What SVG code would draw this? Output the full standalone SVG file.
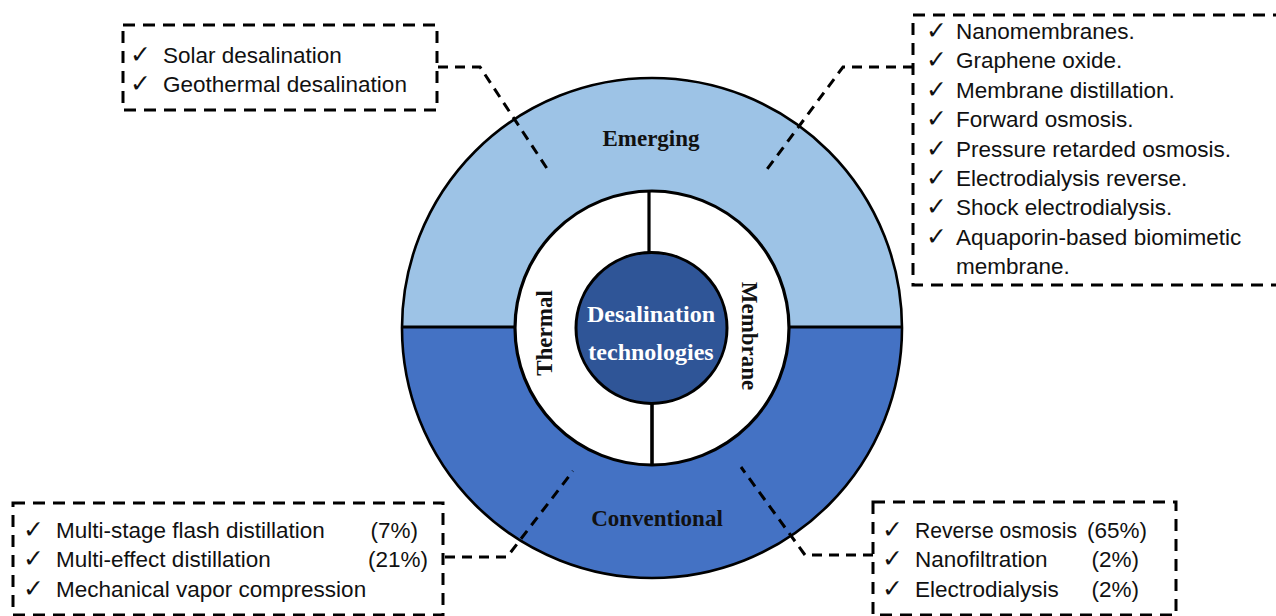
<svg xmlns="http://www.w3.org/2000/svg" width="1276" height="616" viewBox="0 0 1276 616">
<style>
.box{fill:none;stroke:#000;stroke-width:3;stroke-dasharray:12 8}
.con{fill:none;stroke:#000;stroke-width:3;stroke-dasharray:10 7}
.t{font-family:"Liberation Sans","DejaVu Sans",sans-serif;font-size:22.5px;fill:#111}
.ck{font-family:"DejaVu Sans",sans-serif;font-size:25px;fill:#111}
.lab{font-family:"Liberation Serif","DejaVu Serif",serif;font-weight:bold;font-size:23px;fill:#111}
.cen{font-family:"Liberation Serif","DejaVu Serif",serif;font-weight:bold;font-size:24px;fill:#fff}
</style>
<rect width="1276" height="616" fill="#fff"/>
<g id="ring-outer">
<path d="M402,328 A250,250 0 0 1 902,328 Z" fill="#9DC3E6"/>
<path d="M402,328 A250,250 0 0 0 902,328 Z" fill="#4472C4"/>
<circle cx="652" cy="328" r="250" fill="none" stroke="#000" stroke-width="2.6"/>
<line x1="402" y1="327" x2="902" y2="327" stroke="#000" stroke-width="3"/>
</g>
<g id="node-emerging"><text class="lab" x="651" y="146" text-anchor="middle">Emerging</text></g>
<g id="node-conventional"><text class="lab" x="657" y="526" text-anchor="middle">Conventional</text></g>
<g id="ring-inner">
<circle cx="652" cy="328" r="137" fill="#fff" stroke="#000" stroke-width="3.2"/>
<line x1="649" y1="192" x2="649" y2="254" stroke="#000" stroke-width="3.2"/>
<line x1="652" y1="402" x2="652" y2="465" stroke="#000" stroke-width="3.6"/>
</g>
<g id="node-thermal"><text class="lab" transform="translate(552,333) rotate(-90)" text-anchor="middle">Thermal</text></g>
<g id="node-membrane"><text class="lab" transform="translate(742,336) rotate(90)" text-anchor="middle">Membrane</text></g>
<g id="node-center">
<circle cx="651.5" cy="328" r="75.5" fill="#2F5597" stroke="#000" stroke-width="3"/>
<text class="cen" x="651" y="322" text-anchor="middle">Desalination</text>
<text class="cen" x="651" y="360" text-anchor="middle">technologies</text>
</g>
<g id="connectors">
<path class="con" d="M438,67 H480 L548,170"/>
<path class="con" d="M913,67 H843 L765,172"/>
<path class="con" d="M445,557 H507 L573,471"/>
<path class="con" d="M873,555 H805 L741,467"/>
</g>
<g id="box-emerging-thermal">
<rect class="box" x="123" y="25" width="314" height="85"/>
<text class="ck" x="130" y="63">✓</text><text class="t" x="163" y="63">Solar desalination</text>
<text class="ck" x="130" y="92">✓</text><text class="t" x="163" y="92">Geothermal desalination</text>
</g>
<g id="box-emerging-membrane">
<rect class="box" x="913" y="15" width="380" height="270"/>
<text class="ck" x="926" y="39">✓</text><text class="t" x="956" y="39">Nanomembranes.</text>
<text class="ck" x="926" y="68">✓</text><text class="t" x="956" y="68">Graphene oxide.</text>
<text class="ck" x="926" y="98">✓</text><text class="t" x="956" y="98">Membrane distillation.</text>
<text class="ck" x="926" y="127">✓</text><text class="t" x="956" y="127">Forward osmosis.</text>
<text class="ck" x="926" y="157">✓</text><text class="t" x="956" y="157">Pressure retarded osmosis.</text>
<text class="ck" x="926" y="186">✓</text><text class="t" x="956" y="186">Electrodialysis reverse.</text>
<text class="ck" x="926" y="215">✓</text><text class="t" x="956" y="215">Shock electrodialysis.</text>
<text class="ck" x="926" y="245">✓</text><text class="t" x="956" y="245">Aquaporin-based biomimetic</text>
<text class="t" x="956" y="274">membrane.</text>
</g>
<g id="box-conventional-thermal">
<rect class="box" x="13" y="503" width="430" height="112"/>
<text class="ck" x="23" y="538">✓</text><text class="t" x="56" y="538">Multi-stage flash distillation</text><text class="t" x="418" y="538" text-anchor="end">(7%)</text>
<text class="ck" x="23" y="567">✓</text><text class="t" x="56" y="567">Multi-effect distillation</text><text class="t" x="428" y="567" text-anchor="end">(21%)</text>
<text class="ck" x="23" y="597">✓</text><text class="t" x="56" y="597">Mechanical vapor compression</text>
</g>
<g id="box-conventional-membrane">
<rect class="box" x="873" y="502" width="303" height="113"/>
<text class="ck" x="882" y="538">✓</text><text class="t" x="915" y="538" textLength="162" lengthAdjust="spacingAndGlyphs">Reverse osmosis</text><text class="t" x="1147" y="538" text-anchor="end">(65%)</text>
<text class="ck" x="882" y="567">✓</text><text class="t" x="915" y="567">Nanofiltration</text><text class="t" x="1139" y="567" text-anchor="end">(2%)</text>
<text class="ck" x="882" y="597">✓</text><text class="t" x="915" y="597">Electrodialysis</text><text class="t" x="1139" y="597" text-anchor="end">(2%)</text>
</g>
</svg>
